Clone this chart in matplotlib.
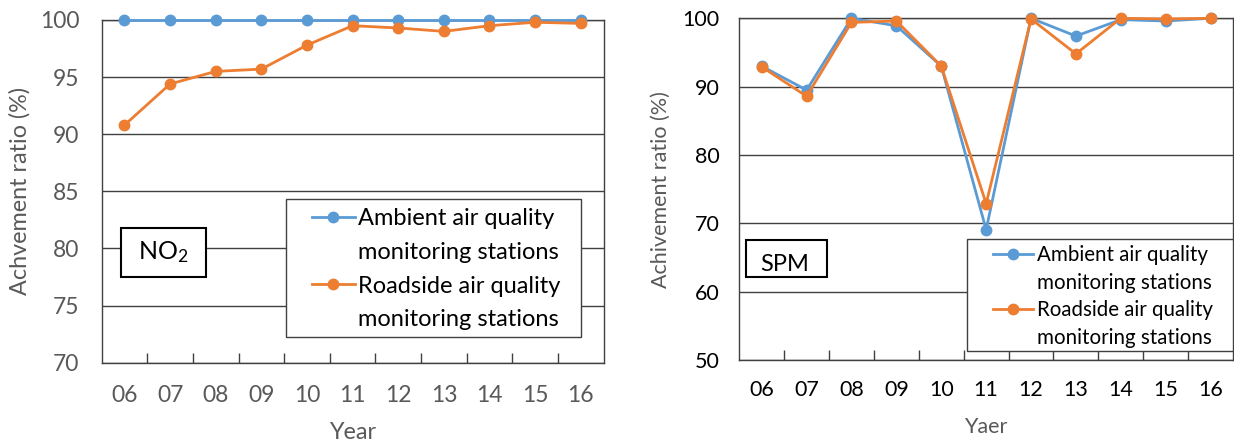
import numpy as np
import matplotlib
matplotlib.use("Agg")
import matplotlib.pyplot as plt
from matplotlib.patches import Rectangle
from matplotlib.lines import Line2D

plt.rcParams['font.family'] = ['Lato', 'DejaVu Sans']
plt.rcParams['mathtext.default'] = 'regular'

#----------- data -----------#
years = ['06', '07', '08', '09', '10', '11', '12', '13', '14', '15', '16']

no2_ambient = [100, 100, 100, 100, 100, 100, 100, 100, 100, 100, 100]
no2_roadside = [90.8, 94.4, 95.5, 95.7, 97.8, 99.5, 99.3, 99.0, 99.5, 99.8, 99.7]

spm_ambient = [93.0, 89.5, 100.0, 98.9, 93.0, 69.1, 100.0, 97.4, 99.8, 99.6, 100.0]
spm_roadside = [92.9, 88.6, 99.4, 99.6, 93.0, 72.9, 99.9, 94.8, 100.0, 99.9, 100.0]

BLUE = '#5B9BD5'
ORANGE = '#ED7D31'
GRAY = '#595959'
DARK = '#404040'

fig = plt.figure(figsize=(12.34, 4.48), dpi=100)
ax1 = fig.add_axes([0.0824, 0.1904, 0.4067, 0.765])
ax2 = fig.add_axes([0.5991, 0.1958, 0.4001, 0.7634])


def setup_axis(ax, ylim, yticks, tickcolor, fs, xpad, ypad):
    x = np.arange(len(years))
    ax.set_xlim(-0.5, len(years) - 0.5)
    ax.set_ylim(*ylim)
    ax.set_yticks(yticks)
    ax.set_xticks(x)
    ax.set_xticklabels(years)
    ax.set_xticks(x[:-1] + 0.5, minor=True)
    ax.tick_params(axis='x', which='major', length=0, pad=xpad,
                   labelsize=fs, labelcolor=tickcolor)
    ax.tick_params(axis='x', which='minor', direction='in', length=7,
                   width=1, color=DARK)
    ax.tick_params(axis='y', length=0, pad=ypad, labelsize=fs,
                   labelcolor=tickcolor)
    ax.grid(axis='y', color=DARK, lw=1)
    ax.set_axisbelow(True)
    for s in ax.spines.values():
        s.set_color(DARK)
        s.set_linewidth(1)


def draw_legend(ax, h1, h2, box, anchor, fs, hlen, hpad, lspace):
    ax.add_patch(Rectangle(box[:2], box[2], box[3], transform=ax.transAxes,
                           facecolor='white', edgecolor=DARK, lw=1,
                           zorder=4, clip_on=False))
    blank = Line2D([], [], linestyle='none')
    leg = ax.legend([h1, blank, h2, blank],
                    ['Ambient air quality', 'monitoring stations',
                     'Roadside air quality', 'monitoring stations'],
                    loc='upper left', bbox_to_anchor=anchor, frameon=False,
                    borderpad=0, borderaxespad=0, fontsize=fs,
                    handlelength=hlen, handletextpad=hpad,
                    labelspacing=lspace)
    leg.set_zorder(5)


x = np.arange(len(years))

#---- NO2 ----#
setup_axis(ax1, (70, 100), [70, 75, 80, 85, 90, 95, 100], GRAY, 16.5, 16, 16)
l1, = ax1.plot(x, no2_ambient, color=BLUE, lw=2, marker='o', ms=7.5,
               clip_on=False, zorder=3)
l2, = ax1.plot(x, no2_roadside, color=ORANGE, lw=2, marker='o', ms=7.5,
               clip_on=False, zorder=3)
draw_legend(ax1, l1, l2, (0.367, 0.076, 0.588, 0.402), (0.4185, 0.451),
            17, 1.82, 0.13, 0.54)
ax1.add_patch(Rectangle((0.0385, 0.251), 0.1694, 0.1412,
                        transform=ax1.transAxes, facecolor='white',
                        edgecolor='black', lw=1.5, zorder=4))
ax1.text(0.123, 0.323, 'NO$_2$', transform=ax1.transAxes, fontsize=18,
         ha='center', va='center', zorder=5)
ax1.text(-0.163, 0.5, 'Achvement ratio (%)', transform=ax1.transAxes,
         rotation=90, ha='center', va='center', fontsize=16.8, color=GRAY)
ax1.text(0.5, -0.205, 'Year', transform=ax1.transAxes,
         ha='center', va='center', fontsize=16.8, color=GRAY)

#---- SPM ----#
setup_axis(ax2, (50, 100), [50, 60, 70, 80, 90, 100], 'black', 15.5, 14, 14)
m1, = ax2.plot(x, spm_ambient, color=BLUE, lw=2, marker='o', ms=7.5,
               clip_on=False, zorder=3)
m2, = ax2.plot(x, spm_roadside, color=ORANGE, lw=2, marker='o', ms=7.5,
               clip_on=False, zorder=3)
draw_legend(ax2, m1, m2, (0.4606, 0.028, 0.5394, 0.326), (0.514, 0.337),
            14.8, 1.95, 0.18, 0.37)
ax2.add_patch(Rectangle((0.0126, 0.2444), 0.165, 0.1073,
                        transform=ax2.transAxes, facecolor='white',
                        edgecolor='black', lw=1.5, zorder=4))
ax2.text(0.092, 0.2787, 'SPM', transform=ax2.transAxes, fontsize=17,
         ha='center', va='center', zorder=5)
ax2.text(-0.1586, 0.5, 'Achivement ratio (%)', transform=ax2.transAxes,
         rotation=90, ha='center', va='center', fontsize=15.5, color=GRAY)
ax2.text(0.5, -0.195, 'Yaer', transform=ax2.transAxes,
         ha='center', va='center', fontsize=15.5, color=GRAY)

fig.savefig('out.png', dpi=100)
